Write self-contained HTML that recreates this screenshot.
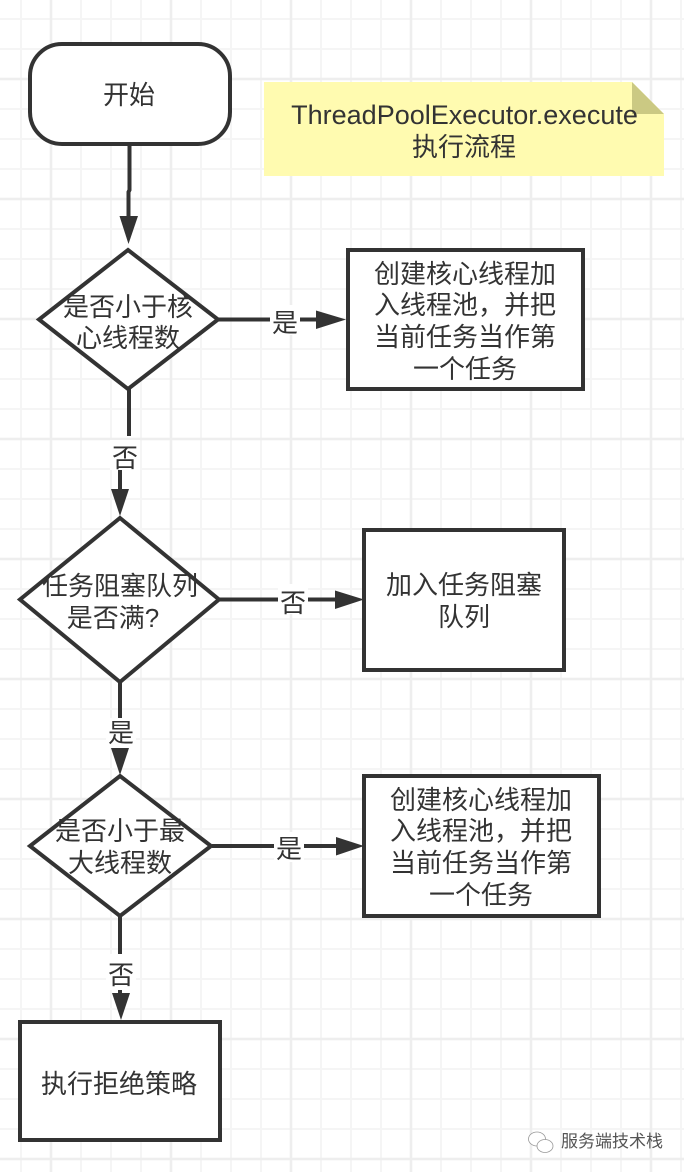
<!DOCTYPE html>
<html><head><meta charset="utf-8"><style>
html,body{margin:0;padding:0;background:#fff}
svg{display:block}
text{font-family:"Liberation Sans","WenQuanYi Zen Hei","Noto Sans CJK SC",sans-serif;font-size:26px;fill:#333;text-anchor:middle}
.g1{stroke:#f5f5f5;stroke-width:2}
.g2{stroke:#eeeeee;stroke-width:2.5}
.s{fill:#fff;stroke:#333;stroke-width:4}
.l{fill:none;stroke:#333;stroke-width:4}
.a{fill:#333}
.w{fill:#fff}
</style></head><body>
<svg width="684" height="1172" viewBox="0 0 684 1172" xmlns="http://www.w3.org/2000/svg">
<g class="g1">
<path d="M21 0V1172M81 0V1172M111 0V1172M141 0V1172M201 0V1172M231 0V1172M261 0V1172M321 0V1172M351 0V1172M381 0V1172M441 0V1172M471 0V1172M501 0V1172M561 0V1172M591 0V1172M621 0V1172M681 0V1172"/>
<path d="M0 19H684M0 49H684M0 109H684M0 139H684M0 169H684M0 229H684M0 259H684M0 289H684M0 349H684M0 379H684M0 409H684M0 469H684M0 499H684M0 529H684M0 589H684M0 619H684M0 649H684M0 709H684M0 739H684M0 769H684M0 829H684M0 859H684M0 889H684M0 949H684M0 979H684M0 1009H684M0 1069H684M0 1099H684M0 1129H684"/>
</g>
<g class="g2">
<path d="M51 0V1172M171 0V1172M291 0V1172M411 0V1172M531 0V1172M651 0V1172"/>
<path d="M0 79H684M0 199H684M0 319H684M0 439H684M0 559H684M0 679H684M0 799H684M0 919H684M0 1039H684M0 1159H684"/>
</g>

<rect class="s" x="30" y="44" width="200" height="100" rx="32" ry="32"/>
<text x="129" y="104">开始</text>

<path d="M264 82H632L664 114V176H264Z" fill="#fffbb0"/>
<path d="M632 82L664 114H632Z" fill="#cbc983"/>
<text x="464.500" y="124" style="font-size:27px">ThreadPoolExecutor.execute</text>
<text x="464" y="156">执行流程</text>

<path class="l" d="M129.500 144V190L128.500 192V218"/>
<path class="a" d="M119.500 216H138L128.500 244Z"/>

<path class="s" d="M128 250L218 319.500L128 389L39 319.500Z"/>
<text x="128" y="316">是否小于核</text>
<text x="128" y="347">心线程数</text>

<rect class="s" x="348" y="250" width="235" height="139"/>
<text x="465" y="283">创建核心线程加</text>
<text x="465" y="314">入线程池，并把</text>
<text x="465" y="346">当前任务当作第</text>
<text x="465" y="378">一个任务</text>

<path class="l" d="M218 319.500H318"/>
<path class="a" d="M316 310.500V329L346 319.500Z"/>
<rect class="w" x="270" y="305" width="30" height="30"/>
<text x="285" y="332">是</text>

<path class="l" d="M129 389V436M120 470V490"/>
<rect class="w" x="110" y="440" width="30" height="30" />
<text x="125" y="467">否</text>
<path class="a" d="M111 489H129L120 516Z"/>

<path class="s" d="M120 518L219 599.500L120 682L20 599.500Z"/>
<text x="120" y="595">任务阻塞队列</text>
<text x="113" y="627">是否满?</text>

<path class="l" d="M219 599.500H338"/>
<path class="a" d="M335 590.500V609L364 599.500Z"/>
<rect class="w" x="278" y="584" width="30" height="30"/>
<text x="293" y="612">否</text>

<rect class="s" x="364" y="530" width="200" height="140"/>
<text x="464" y="594">加入任务阻塞</text>
<text x="464" y="626">队列</text>

<path class="l" d="M120 682V750"/>
<path class="a" d="M111 748H129L120 775Z"/>
<rect class="w" x="106" y="718" width="30" height="30"/>
<text x="121" y="742">是</text>

<path class="s" d="M120 776L211 846L120 916L30 846Z"/>
<text x="120" y="840">是否小于最</text>
<text x="120" y="872">大线程数</text>

<path class="l" d="M212 846H338"/>
<path class="a" d="M336 837V855.500L364 846Z"/>
<rect class="w" x="274" y="832" width="30" height="30"/>
<text x="289" y="858">是</text>

<rect class="s" x="364" y="776" width="235" height="140"/>
<text x="481" y="809">创建核心线程加</text>
<text x="481" y="840">入线程池，并把</text>
<text x="481" y="872">当前任务当作第</text>
<text x="481" y="904">一个任务</text>

<path class="l" d="M120 916V996"/>
<rect class="w" x="106" y="954" width="30" height="36"/>
<text x="121" y="984">否</text>
<path class="a" d="M112 993H130L121 1020Z"/>

<rect class="s" x="20" y="1022" width="200" height="118"/>
<text x="119" y="1093">执行拒绝策略</text>

<g fill="#fff" stroke="#999" stroke-width="0.8">
<ellipse cx="537" cy="1139" rx="8.500" ry="7"/>
<ellipse cx="545" cy="1146" rx="8" ry="6.500"/>
</g>
<text x="612" y="1147" style="font-size:17px;fill:#555">服务端技术栈</text>
</svg>
</body></html>
